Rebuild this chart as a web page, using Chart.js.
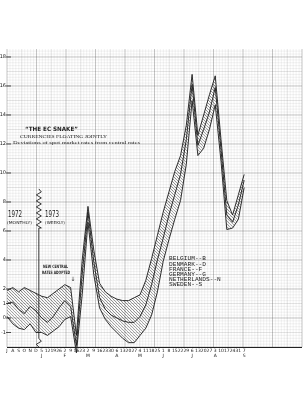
<!DOCTYPE html>
<html>
<head>
<meta charset="utf-8">
<script src="https://cdn.jsdelivr.net/npm/chart.js@4.4.1/dist/chart.umd.min.js"></script>
<style>
  html, body { margin: 0; padding: 0; background: #fff; }
</style>
</head>
<body>
<canvas id="snakeChart" width="303" height="400"></canvas>
<script>
// 1972 is monthly (Jul..Dec), 1973 weekly (Fridays)
const monthLabels72 = ["J", "A", "S", "O", "N", "D"];
const weekLabels73 = ["5","12","19","26","2","9","16","23","2","9","16","23","30","6","13","20","27",
  "4","11","18","25","1","8","15","22","29","6","13","20","27","3","10","17","24","31","7"];
const weekMonths73 = ["J","","","","F","","","","M","","","","","A","","","",
  "M","","","","J","","","","","J","","","","A","","","","","S"];
const blankWeeks = 10; // rest of the sheet, no data yet

// deviations from central rates, percent
const upperEdge = [1.9, 2.1, 1.8, 2.1, 1.9, 1.7,
  1.5, 1.4, 1.7, 2.0, 2.3, 2.1, -1.2, 4.0, 7.7, 4.7, 2.4, 1.8, 1.5, 1.3, 1.2, 1.2, 1.4, 1.6,
  2.6, 4.1, 5.7, 7.3, 8.7, 10.1, 11.2, 13.3, 16.8, 12.6, 14.0, 15.4, 16.7, 12.3, 8.1, 7.1, 8.5, 9.9];
const middleLine = [1.0, 1.1, 0.6, 0.3, 0.8, 0.5,
  0.0, -0.3, 0.1, 0.7, 1.2, 0.8, -1.9, 3.0, 7.3, 3.9, 1.4, 0.6, 0.2, 0.0, -0.2, -0.3, -0.3, 0.1,
  0.9, 2.3, 4.0, 5.5, 7.1, 8.5, 9.9, 12.3, 16.1, 11.9, 13.0, 14.2, 15.9, 11.6, 7.1, 6.6, 7.8, 9.5];
const lowerEdge = [0.1, -0.4, -0.7, -0.8, -0.4, -1.0,
  -1.0, -1.2, -0.9, -0.6, -0.1, 0.1, -2.4, 1.6, 6.6, 3.0, 0.7, -0.1, -0.6, -1.0, -1.4, -1.7, -1.7, -1.2,
  -0.7, 0.2, 1.8, 3.9, 5.4, 6.8, 8.1, 10.6, 15.0, 11.2, 11.7, 13.0, 14.7, 10.8, 6.1, 6.2, 6.8, 9.0];

const yTickValues = [-1, 0, 1, 2, 4, 6, 8, 10, 12, 14, 16, 18];

const legendLines = ["BELGIUM--B", "DENMARK--D", "FRANCE--F", "GERMANY--G", "NETHERLANDS--N", "SWEDEN--S"];

const labels = [
  ...monthLabels72,
  ...weekLabels73.map((w, i) => weekMonths73[i] ? [w, weekMonths73[i]] : w),
  ...Array(blankWeeks).fill("")
];
const pad = (arr) => arr.concat(Array(blankWeeks).fill(null));

const canvas = document.getElementById("snakeChart");
const c2d = canvas.getContext("2d");

function makeHatch(step, alpha) {
  const t = document.createElement("canvas");
  t.width = step; t.height = step;
  const g = t.getContext("2d");
  g.strokeStyle = `rgba(20,20,20,${alpha})`;
  g.lineWidth = 0.8;
  g.beginPath();
  g.moveTo(0, 0); g.lineTo(step, step);
  g.moveTo(-1, step - 1); g.lineTo(1, step + 1);
  g.moveTo(step - 1, -1); g.lineTo(step + 1, 1);
  g.stroke();
  return c2d.createPattern(t, "repeat");
}

function fitText(ctx, str, x, y, font, w) {
  ctx.save();
  ctx.font = font;
  const m = ctx.measureText(str).width;
  ctx.translate(x, y);
  if (w) ctx.scale(w / m, 1);
  ctx.textBaseline = "middle";
  ctx.textAlign = "left";
  ctx.fillText(str, 0, 0);
  ctx.restore();
}

// graph paper behind everything
const paperPlugin = {
  id: "paper",
  beforeDraw(chart) {
    const { ctx, chartArea: a, scales: { y } } = chart;
    ctx.save();
    ctx.fillStyle = "#fff";
    ctx.fillRect(0, 0, chart.width, chart.height);
    ctx.lineWidth = 0.6;
    for (let k = Math.ceil(y.min * 5); k <= Math.floor(y.max * 5); k++) {
      const py = y.getPixelForValue(k / 5);
      ctx.strokeStyle = k % 10 === 0 ? "rgba(60,60,60,0.5)" : (k % 5 === 0 ? "rgba(90,90,90,0.28)" : "rgba(110,110,110,0.15)");
      ctx.beginPath(); ctx.moveTo(a.left, py); ctx.lineTo(a.right, py); ctx.stroke();
    }
    const step = (a.right - a.left) / 100;
    for (let k = 0; k <= 100; k++) {
      const px = a.left + k * step;
      ctx.strokeStyle = k % 10 === 0 ? "rgba(60,60,60,0.5)" : (k % 5 === 0 ? "rgba(90,90,90,0.28)" : "rgba(110,110,110,0.15)");
      ctx.beginPath(); ctx.moveTo(px, a.top); ctx.lineTo(px, a.bottom); ctx.stroke();
    }
    ctx.restore();
  }
};

// notes, year break, tick dashes
const notesPlugin = {
  id: "notes",
  afterDatasetsDraw(chart) {
    const { ctx, chartArea: a, scales: { x, y } } = chart;
    ctx.save();
    ctx.strokeStyle = "#222";
    ctx.fillStyle = "#222";

    // bottom rule
    ctx.lineWidth = 1;
    ctx.beginPath(); ctx.moveTo(a.left, a.bottom + 0.5); ctx.lineTo(a.right, a.bottom + 0.5); ctx.stroke();

    // y tick dashes
    ctx.lineWidth = 0.8;
    yTickValues.forEach(v => {
      const py = y.getPixelForValue(v);
      ctx.beginPath(); ctx.moveTo(a.left - 1, py); ctx.lineTo(a.left + 4, py); ctx.stroke();
    });

    // break between monthly and weekly
    const bx = x.getPixelForValue(5.5);
    const zig = (from, to) => {
      let py = y.getPixelForValue(from);
      const end = y.getPixelForValue(to);
      let side = 1;
      ctx.moveTo(bx, py);
      while (py + 3 < end) {
        py += 3;
        ctx.lineTo(bx + side * 2.5, py);
        side = -side;
      }
      ctx.lineTo(bx, end);
    };
    ctx.lineWidth = 0.9;
    ctx.beginPath();
    zig(8.9, 6.2);
    ctx.lineTo(bx, y.getPixelForValue(-1.4));
    zig(-1.4, -2.0);
    ctx.stroke();

    // titles
    fitText(ctx, "\u201CTHE EC SNAKE\u201D", 25, 129, "bold 6px 'DejaVu Sans'", 53);
    fitText(ctx, "CURRENCIES FLOATING JOINTLY", 20, 136.5, "5px 'Liberation Serif'", 87);
    fitText(ctx, "Deviations of spot market rates from central rates", 13, 143, "5px 'Liberation Serif'", 127);

    fitText(ctx, "1972", 8, 215, "9px 'DejaVu Sans'", 14);
    fitText(ctx, "(MONTHLY)", 7, 223, "4px 'DejaVu Sans'", 25);
    fitText(ctx, "1973", 45, 215, "9px 'DejaVu Sans'", 14);
    fitText(ctx, "(WEEKLY)", 45, 223, "4px 'DejaVu Sans'", 20);

    fitText(ctx, "NEW CENTRAL", 43, 267, "bold 4.5px 'DejaVu Sans'", 25);
    fitText(ctx, "RATES ADOPTED", 42, 273, "bold 4.5px 'DejaVu Sans'", 28);
    fitText(ctx, "\u2193", 70.5, 279, "6px 'DejaVu Sans'");

    legendLines.forEach((s, i) => {
      fitText(ctx, s, 169, 259 + i * 5.2, "5.5px 'Liberation Mono'", s.length * 3.7);
    });
    ctx.restore();
  }
};

const hatchUpper = makeHatch(3, 0.55);
const hatchLower = makeHatch(3, 0.45);

new Chart(canvas, {
  type: "line",
  data: {
    labels,
    datasets: [
      { data: pad(upperEdge), borderColor: "#1a1a1a", borderWidth: 0.9, pointRadius: 0, tension: 0,
        fill: "+1", backgroundColor: hatchUpper, clip: false },
      { data: pad(middleLine), borderColor: "#1a1a1a", borderWidth: 0.9, pointRadius: 0, tension: 0,
        fill: "+1", backgroundColor: hatchLower, clip: false },
      { data: pad(lowerEdge), borderColor: "#1a1a1a", borderWidth: 0.9, pointRadius: 0, tension: 0,
        fill: false, clip: false }
    ]
  },
  options: {
    responsive: false,
    animation: false,
    devicePixelRatio: 1,
    layout: { padding: { top: 49, left: 0, right: 0, bottom: 0 } },
    plugins: { legend: { display: false }, tooltip: { enabled: false } },
    scales: {
      x: {
        type: "category",
        offset: false,
        grid: { display: false, drawTicks: false },
        border: { display: false },
        ticks: {
          autoSkip: false, maxRotation: 0, minRotation: 0, padding: 1,
          color: "#222",
          font: { size: 4.5, family: "DejaVu Sans", lineHeight: 1.2 }
        },
        afterFit: (s) => { s.height = 53; }
      },
      y: {
        min: -2,
        max: 18.55,
        grid: { display: false, drawTicks: false },
        border: { display: false },
        afterBuildTicks: (s) => { s.ticks = yTickValues.map(v => ({ value: v })); },
        ticks: {
          padding: 1,
          color: "#222",
          font: { size: 5, family: "DejaVu Sans" }
        },
        afterFit: (s) => { s.width = 7; }
      }
    }
  },
  plugins: [paperPlugin, notesPlugin]
});
</script>
</body>
</html>
